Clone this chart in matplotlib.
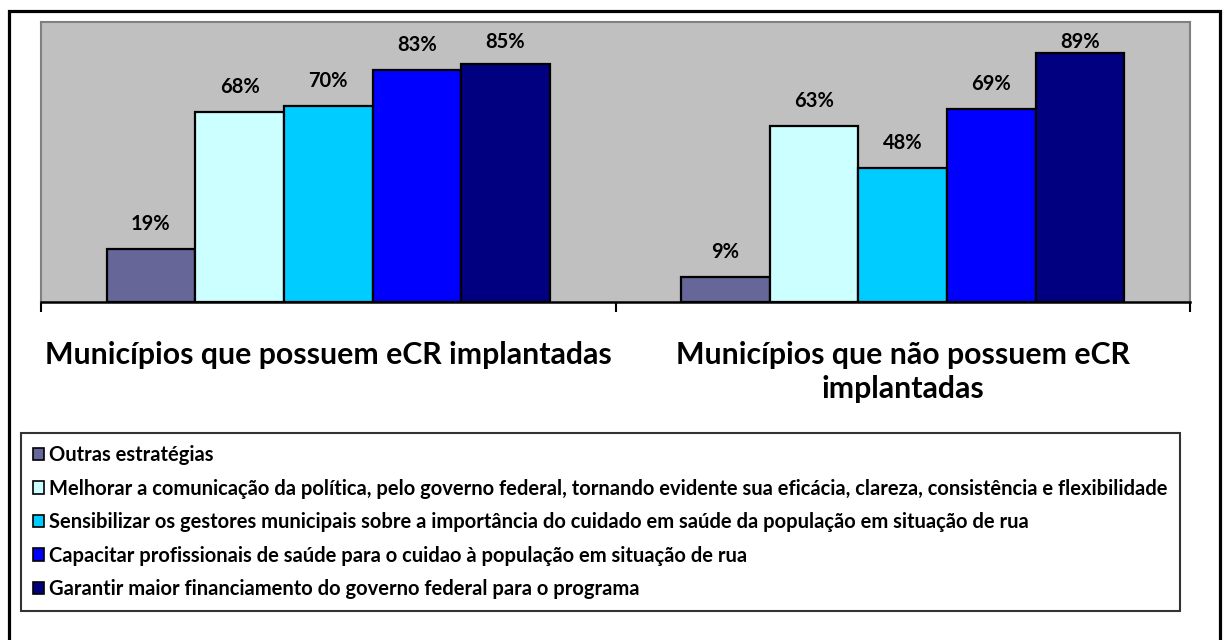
import matplotlib
matplotlib.use("Agg")
import matplotlib.pyplot as plt
from matplotlib.patches import Patch, Rectangle

plt.rcParams['font.family'] = ['Lato', 'DejaVu Sans']
plt.rcParams['font.weight'] = 'bold'

categories = ["Municípios que possuem eCR implantadas",
              "Municípios que não possuem eCR\nimplantadas"]
series_names = [
    "Outras estratégias",
    "Melhorar a comunicação da política, pelo governo federal, tornando evidente sua eficácia, clareza, consistência e flexibilidade",
    "Sensibilizar os gestores municipais sobre a importância do cuidado em saúde da população em situação de rua",
    "Capacitar profissionais de saúde para o cuidao à população em situação de rua",
    "Garantir maior financiamento do governo federal para o programa",
]
outras = [19, 9]
melhorar = [68, 63]
sensibilizar = [70, 48]
capacitar = [83, 69]
garantir = [85, 89]
series_values = [outras, melhorar, sensibilizar, capacitar, garantir]
colors = ["#666699", "#CCFFFF", "#00CCFF", "#0000FF", "#000080"]

W, H = 1223, 640
fig = plt.figure(figsize=(W / 100, H / 100), dpi=100)
fig.patch.set_facecolor("white")

ax = fig.add_axes([41 / W, 1 - 302 / H, (1190 - 41) / W, (302 - 22) / H])
ax.set_facecolor("#C0C0C0")

bw = 0.1543
x = range(len(categories))
for i, (name, vals, c) in enumerate(zip(series_names, series_values, colors)):
    pos = [xi + (i - 2) * bw for xi in x]
    ax.bar(pos, vals, width=bw, color=c, edgecolor="black", linewidth=1.6,
           label=name, zorder=3)
    for p, v in zip(pos, vals):
        ax.text(p, min(v + 8.9, 92.8), f"{v}%", ha="center", va="center",
                fontsize=14.5, fontweight="bold", color="black", zorder=4)

ax.set_xlim(-0.5, len(categories) - 0.5)
ax.set_ylim(0, 100)
ax.set_yticks([])
ax.set_xticks(list(x))
ax.set_xticklabels(categories, fontsize=21.8, fontweight="bold",
                   linespacing=1.25)
ax.tick_params(axis="x", which="major", length=0, pad=28)
ax.set_xticks([-0.5, 0.5, 1.5], minor=True)
ax.tick_params(axis="x", which="minor", length=7.5, width=1.5, color="black",
               direction="out")
for s in ["top", "left", "right"]:
    ax.spines[s].set_color("#808080")
    ax.spines[s].set_linewidth(1.5)
ax.spines["bottom"].set_color("black")
ax.spines["bottom"].set_linewidth(1.8)

handles = [Patch(facecolor=c, edgecolor="black", linewidth=1.2) for c in colors]
leg = fig.legend(handles, series_names, loc="upper left",
                 bbox_to_anchor=(21 / W, 1 - 433 / H), borderaxespad=0,
                 prop={"weight": "bold", "size": 14.5},
                 frameon=True, fancybox=False, handlelength=0.55,
                 handleheight=0.55, handletextpad=0.25, labelspacing=0.67,
                 borderpad=0.6)
leg.get_frame().set_edgecolor("black")
leg.get_frame().set_linewidth(1.5)

border = Rectangle((9 / W, -0.1), (1220 - 9) / W, 1.1 - 11 / H,
                   transform=fig.transFigure, fill=False, edgecolor="black",
                   linewidth=2.3, zorder=10)
fig.patches.append(border)

fig.savefig("out.png", dpi=100, facecolor="white")
